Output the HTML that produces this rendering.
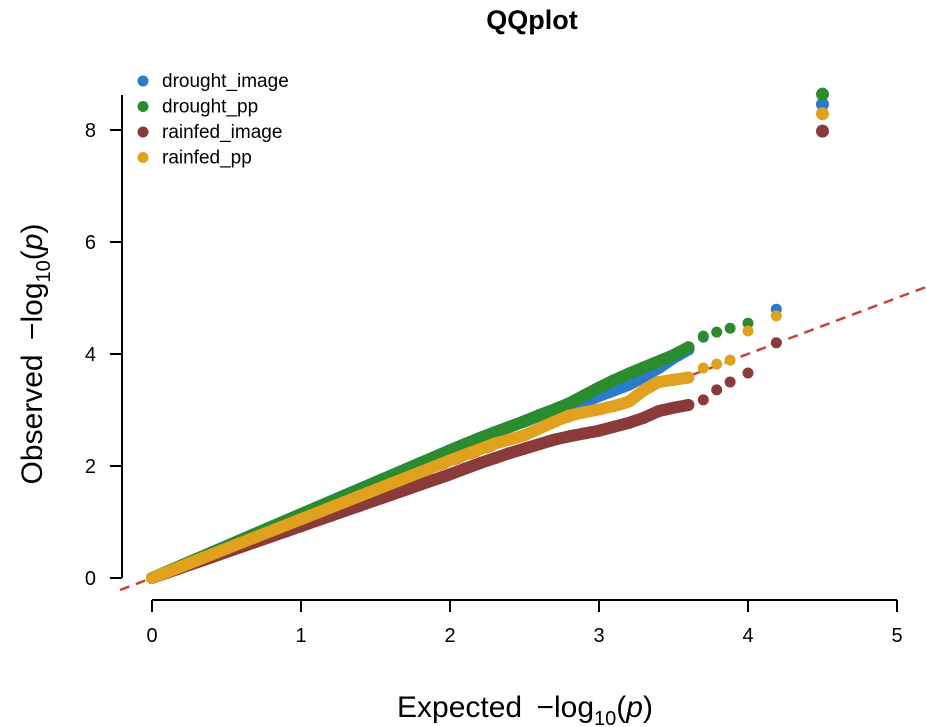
<!DOCTYPE html>
<html><head><meta charset="utf-8"><style>
html,body{margin:0;padding:0;background:#fff;}
svg{display:block;font-family:"Liberation Sans",Arial,sans-serif;}
</style></head><body>
<svg id="chart" width="926" height="727" viewBox="0 0 926 727">
<text x="532" y="29" text-anchor="middle" font-size="27" font-weight="bold">QQplot</text>
<g id="axes"></g>
<line x1="120" y1="590" x2="926" y2="287" stroke="#c8403a" stroke-width="2.5" stroke-dasharray="10,7"/>
<g id="series"></g>
<text x="525" y="717" text-anchor="middle" font-size="30">Expected <tspan dx="6">−log</tspan><tspan font-size="20" dy="8">10</tspan><tspan dy="-8">(</tspan><tspan font-style="italic">p</tspan>)</text>
<text transform="translate(42,354) rotate(-90)" text-anchor="middle" font-size="30">Observed <tspan dx="6">−log</tspan><tspan font-size="20" dy="8">10</tspan><tspan dy="-8">(</tspan><tspan font-style="italic">p</tspan>)</text>
<g id="legend"></g>
</svg>
<script>
const xTicks=[0,1,2,3,4,5];
const yTicks=[0,2,4,6,8];
const seriesNames=["drought_image","drought_pp","rainfed_image","rainfed_pp"];
const seriesColors=["#2b7bc8","#2a8c2e","#8b3a3a","#e0a21e"];
const expDense=[0,0.1,0.2,0.3,0.4,0.5,0.6,0.7,0.8,0.9,1.0,1.1,1.2,1.3,1.4,1.5,1.6,1.7,1.8,1.9,2.0,2.1,2.2,2.3,2.4,2.5,2.6,2.7,2.8,2.9,3.0,3.1,3.2,3.3,3.4,3.5,3.6];
const droughtImageObs=[0,0.114,0.228,0.342,0.456,0.57,0.684,0.798,0.912,1.026,1.14,1.254,1.368,1.482,1.596,1.71,1.824,1.938,2.052,2.166,2.28,2.39,2.5,2.6,2.7,2.8,2.9,2.98,3.05,3.15,3.25,3.35,3.45,3.6,3.75,3.93,4.08];
const droughtPpObs=[0,0.114,0.228,0.342,0.456,0.57,0.684,0.798,0.912,1.026,1.14,1.254,1.368,1.482,1.596,1.71,1.824,1.938,2.052,2.166,2.28,2.39,2.5,2.6,2.7,2.8,2.91,3.01,3.12,3.26,3.4,3.53,3.65,3.76,3.87,3.98,4.12];
const rainfedImageObs=[0,0.0925,0.185,0.278,0.37,0.463,0.555,0.648,0.74,0.833,0.925,1.018,1.11,1.203,1.295,1.388,1.48,1.573,1.665,1.758,1.85,1.95,2.05,2.14,2.23,2.31,2.39,2.47,2.53,2.58,2.63,2.7,2.77,2.86,2.98,3.04,3.09];
const rainfedPpObs=[0,0.105,0.21,0.315,0.42,0.525,0.63,0.735,0.84,0.945,1.05,1.155,1.26,1.365,1.47,1.575,1.68,1.785,1.89,1.995,2.1,2.2,2.3,2.4,2.47,2.55,2.67,2.79,2.9,2.96,3.01,3.07,3.15,3.35,3.5,3.54,3.58];
const tailExp=[[3.7,4.19,4.5],[3.7,3.79,3.88,4.0,4.5],[3.7,3.79,3.88,4.0,4.19,4.5],[3.7,3.79,3.88,4.0,4.19,4.5]];
const tailObs=[[4.3,4.8,8.46],[4.32,4.39,4.46,4.55,8.64],[3.18,3.36,3.5,3.66,4.2,7.98],[3.75,3.82,3.89,4.41,4.68,8.29]];
const denseObs=[droughtImageObs,droughtPpObs,rainfedImageObs,rainfedPpObs];

const NS="http://www.w3.org/2000/svg";
const X=v=>152+v*149, Y=v=>578-v*56;
function mk(tag,attrs,parent){const e=document.createElementNS(NS,tag);for(const k in attrs)e.setAttribute(k,attrs[k]);parent.appendChild(e);return e;}
const axes=document.getElementById('axes');
let xl=mk('line',{x1:X(0),y1:600,x2:X(5),y2:600,stroke:'#000','stroke-width':2},axes);


let yl=mk('line',{x1:122,y1:Y(0),x2:122,y2:95,stroke:'#000','stroke-width':2},axes);


xTicks.forEach(t=>{
 let l=mk('line',{x1:X(t),y1:600,x2:X(t),y2:612,stroke:'#000','stroke-width':2},axes);
 
 
 let tx=mk('text',{x:X(t),y:642,'text-anchor':'middle','font-size':20},axes);tx.textContent=t;
 
 
});
yTicks.forEach(t=>{
 let l=mk('line',{x1:110,y1:Y(t),x2:122,y2:Y(t),stroke:'#000','stroke-width':2},axes);
 
 
 let tx=mk('text',{x:96,y:Y(t)+7,'text-anchor':'end','font-size':20},axes);tx.textContent=t;
 
 
});
const sg=document.getElementById('series');
[0,1,2,3].forEach(i=>{
 const g=mk('g',{},sg);
 
 
 const pts=expDense.map((e,j)=>X(e)+','+Y(denseObs[i][j])).join(' ');
 const pl=mk('polyline',{points:pts,fill:'none',stroke:seriesColors[i],'stroke-width':12,'stroke-linecap':'round','stroke-linejoin':'round'},g);
 
 
 expDense.forEach((e,j)=>{
  const c=mk('circle',{cx:X(e),cy:Y(denseObs[i][j]),r:6,fill:seriesColors[i]},g);
  
  
 });
 tailExp[i].forEach((e,j)=>{
  const last=j===tailExp[i].length-1;
  const c=mk('circle',{cx:X(e),cy:Y(tailObs[i][j]),r:last?6.5:5.5,fill:seriesColors[i]},g);
  
  
 });
});
const lg=document.getElementById('legend');
seriesNames.forEach((n,i)=>{
 const y=81+i*25.5;
 const g=mk('g',{},lg);
 
 
 mk('circle',{cx:143,cy:y,r:5.5,fill:seriesColors[i]},g);
 const t=mk('text',{x:162,y:y+6,'font-size':19},g);t.textContent=n;
});
</script>
</body></html>
